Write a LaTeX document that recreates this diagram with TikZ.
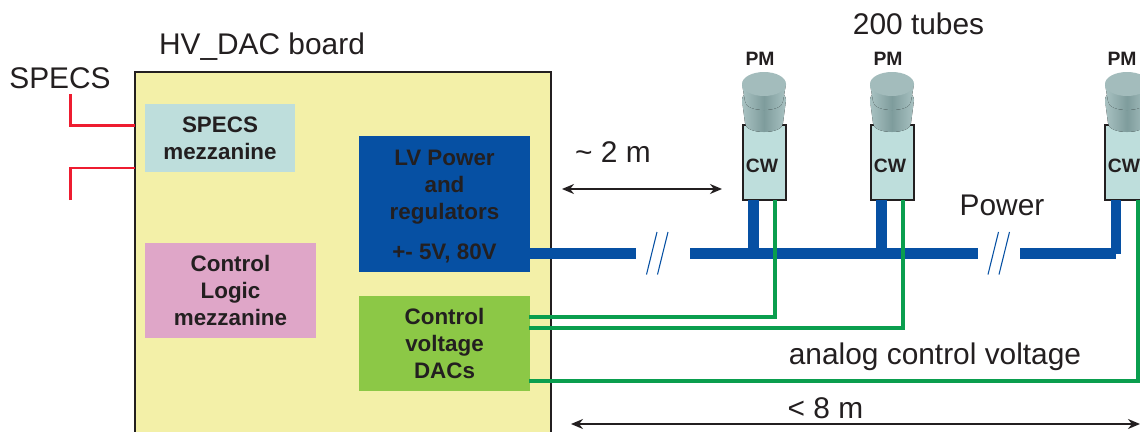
\documentclass[tikz,border=0pt]{standalone}
\usepackage{fontspec}
\usetikzlibrary{arrows.meta}
\setmainfont{Liberation Sans}
\definecolor{boardc}{HTML}{F3F0A8}
\definecolor{mezzc}{HTML}{BEDEDC}
\definecolor{pinkc}{HTML}{DFA6C8}
\definecolor{lvc}{HTML}{0650A3}
\definecolor{dacc}{HTML}{8CC846}
\definecolor{greenw}{HTML}{0A9E4E}
\definecolor{redw}{HTML}{EE1C30}
\definecolor{inkc}{HTML}{231F20}
\definecolor{tubeTop}{HTML}{A3BCBC}
\definecolor{tubeEdge}{HTML}{A9C2C2}
\definecolor{tubeMid}{HTML}{7E9C9C}
\tikzset{
  x=0.75pt,y=-0.75pt,
  lbl/.style={font=\fontsize{22.4pt}{26pt}\selectfont,text=inkc,inner sep=0pt},
  blk/.style={font=\fontsize{16.8pt}{20.2pt}\bfseries\selectfont,text=inkc,align=center,inner sep=0pt},
  smallb/.style={font=\fontsize{14.5pt}{16pt}\bfseries\selectfont,text=inkc,inner sep=0pt},
  blockbox/.style={anchor=north west,inner sep=0pt,outer sep=0pt},
  cwbox/.style={blockbox,draw=inkc,line width=0.85pt,fill=mezzc,minimum width=43*0.75pt,minimum height=75*0.75pt},
  bluew/.style={draw=lvc,line width=8.2pt},
  greenl/.style={draw=greenw,line width=2.6pt},
  redl/.style={draw=redw,line width=1.9pt},
  breakm/.style={draw=lvc,line width=0.8pt},
  dim/.style={draw=inkc,line width=1.2pt,{Stealth[length=9pt,width=7.5pt]}-{Stealth[length=9pt,width=7.5pt]}},
}
\newcommand{\tube}[1]{%
  \begin{scope}[shift={(#1,0)}]
    \fill[left color=tubeEdge,right color=tubeEdge,middle color=tubeMid]
      (-22,100) .. controls (-22,85) and (22,85) .. (22,100)
      -- (19,123) .. controls (19,135) and (-19,135) .. (-19,123) -- cycle;
    \fill[left color=tubeEdge,right color=tubeEdge,middle color=tubeMid]
      (-22,84) -- (-19,101) .. controls (-19,113) and (19,113) .. (19,101) -- (22,84) -- cycle;
    \fill[tubeTop] (0,84) ellipse[x radius=22,y radius=12];
  \end{scope}}
\begin{document}
\begin{tikzpicture}
\clip (0,0) rectangle (1140,432);
\fill[white] (0,0) rectangle (1140,432);

% board
\node[blockbox,draw=inkc,line width=0.85pt,fill=boardc,minimum width=416*0.75pt,minimum height=380*0.75pt] (board) at (135,72) {};
\node[blockbox,fill=mezzc,minimum width=150*0.75pt,minimum height=68*0.75pt] (specsm) at (145,104) {};
\node[blk] at (specsm.center) {SPECS\\mezzanine};
\node[blockbox,fill=pinkc,minimum width=171*0.75pt,minimum height=95*0.75pt] (logic) at (145,243) {};
\node[blk] at (logic.center) {Control\\Logic\\mezzanine};
\node[blockbox,fill=lvc,minimum width=171*0.75pt,minimum height=136*0.75pt] (lv) at (359,136) {};
\node[blk,anchor=north] at (444.5,150) {LV Power\\and\\regulators};
\node[blk,anchor=center] at (444.5,253) {+- 5V, 80V};
\node[blockbox,fill=dacc,minimum width=171*0.75pt,minimum height=95*0.75pt] (dac) at (359,296) {};
\node[blk] at (dac.center) {Control\\voltage\\DACs};

% tube CW boxes
\node[cwbox] (cwa) at (743,125) {};
\node[cwbox] (cwb) at (871,125) {};
\node[cwbox] (cwc) at (1105,125) {};
\tube{764}\tube{892}\tube{1127}
\node[smallb] (pma) at (760,59) {PM};
\node[smallb] (pmb) at (888,59) {PM};
\node[smallb] (pmc) at (1122,59) {PM};
\node[smallb] (cwta) at (762,166) {CW};
\node[smallb] (cwtb) at (890,166) {CW};
\node[smallb] (cwtc) at (1124,166) {CW};

% power line
\coordinate (pwa) at (636,253.5);
\coordinate (pwb) at (690,253.5);
\coordinate (pwc) at (978,253.5);
\coordinate (pwd) at (1020,253.5);
\coordinate (pwe) at (1116,253.5);
\draw[bluew] (530,253.5) -- (pwa);
\draw[bluew] (pwb) -- (pwc);
\draw[bluew] (pwd) -- (pwe);
\draw[bluew] (753.5,200) -- (753.5,253.5);
\draw[bluew] (881.5,200) -- (881.5,253.5);
\draw[bluew] (1116,200) -- (1116,254);
\draw[breakm] (646.5,274.5) -- (657,232);
\draw[breakm] (657.5,274.5) -- (668,232);
\draw[breakm] (988,274.5) -- (998.5,232);
\draw[breakm] (999,274.5) -- (1009.5,232);

% control lines
\coordinate (ga) at (775,200);
\coordinate (gb) at (903,200);
\coordinate (gc) at (1138,200);
\draw[greenl] (529,317) -| (ga);
\draw[greenl] (529,328) -| (gb);
\draw[greenl] (529,381) -| (gc);

% SPECS lines
\coordinate (ra) at (70.5,94);
\coordinate (rb) at (70.5,200);
\draw[redl] (ra) |- (135,125.5);
\draw[redl] (rb) |- (135,168);

% dimension arrows
\coordinate (da) at (562,189);
\coordinate (db) at (722,189);
\coordinate (dc) at (571,424);
\coordinate (dd) at (1140,424);
\draw[dim] (da) -- (db);
\draw[dim] (dc) -- (dd);

% labels
\node[lbl] (t1) at (60,78) {SPECS};
\node[lbl] (t2) at (262,47) {HV\_DAC board};
\node[lbl] (t3) at (918.5,24) {200 tubes};
\node[lbl] (t4) at (613,152) {\textasciitilde{} 2 m};
\node[lbl] (t5) at (1002,205) {Power};
\node[lbl] (t6) at (935,357) {analog control voltage};
\node[lbl] (t7) at (825.5,408) {< 8 m};
\end{tikzpicture}
\end{document}
